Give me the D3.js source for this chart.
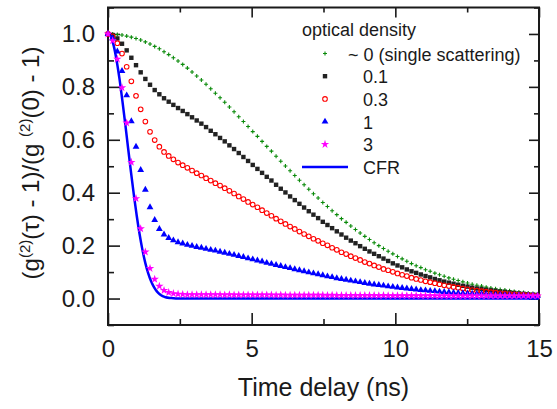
<!DOCTYPE html>
<html>
<head>
<meta charset="utf-8">
<title>Normalized g2 decay</title>
<script src="https://d3js.org/d3.v7.min.js"></script>
<style>
  body { margin: 0; background: #fff; }
  svg text { font-family: "Liberation Sans", Arial, sans-serif; fill: #1a1a1a; }
</style>
</head>
<body>
<div id="chart"></div>
<script>
// time bin of the measured curves (ns)
var sampleStep = 0.1625;

// optical density ~0 (single scattering)
var odZero = [
  1.000, 1.000, 0.998, 0.996, 0.992, 0.988, 0.983, 0.977, 0.970, 0.962,
  0.953, 0.944, 0.933, 0.922, 0.910, 0.898, 0.885, 0.871, 0.856, 0.841,
  0.826, 0.810, 0.793, 0.776, 0.759, 0.742, 0.724, 0.706, 0.687, 0.669,
  0.650, 0.631, 0.613, 0.594, 0.575, 0.557, 0.538, 0.519, 0.501, 0.483,
  0.465, 0.447, 0.430, 0.413, 0.396, 0.380, 0.363, 0.348, 0.332, 0.317,
  0.302, 0.288, 0.274, 0.261, 0.248, 0.235, 0.223, 0.211, 0.200, 0.189,
  0.179, 0.169, 0.159, 0.150, 0.141, 0.132, 0.124, 0.117, 0.109, 0.103,
  0.096, 0.090, 0.084, 0.078, 0.073, 0.068, 0.063, 0.059, 0.054, 0.050,
  0.047, 0.043, 0.040, 0.037, 0.034, 0.032, 0.029, 0.027, 0.025, 0.023,
  0.021, 0.019, 0.017
];
// optical density 0.1
var od01 = [
  1.000, 0.996, 0.983, 0.963, 0.938, 0.910, 0.882, 0.855, 0.830, 0.808,
  0.788, 0.772, 0.757, 0.744, 0.732, 0.720, 0.709, 0.697, 0.685, 0.673,
  0.661, 0.648, 0.634, 0.621, 0.607, 0.594, 0.579, 0.565, 0.550, 0.535,
  0.520, 0.505, 0.490, 0.475, 0.460, 0.446, 0.430, 0.415, 0.401, 0.386,
  0.372, 0.358, 0.344, 0.330, 0.317, 0.304, 0.290, 0.278, 0.266, 0.254,
  0.242, 0.230, 0.219, 0.209, 0.198, 0.188, 0.178, 0.169, 0.160, 0.151,
  0.142, 0.133, 0.125, 0.118, 0.110, 0.103, 0.097, 0.091, 0.085, 0.080,
  0.074, 0.069, 0.064, 0.060, 0.056, 0.052, 0.048, 0.045, 0.041, 0.038,
  0.036, 0.033, 0.031, 0.029, 0.026, 0.025, 0.023, 0.021, 0.019, 0.018,
  0.016, 0.015, 0.014
];
// optical density 0.3
var od03 = [
  1.000, 0.991, 0.965, 0.926, 0.876, 0.821, 0.766, 0.715, 0.669, 0.630,
  0.599, 0.574, 0.554, 0.539, 0.526, 0.514, 0.504, 0.494, 0.484, 0.474,
  0.465, 0.455, 0.446, 0.436, 0.427, 0.417, 0.407, 0.397, 0.386, 0.376,
  0.365, 0.355, 0.345, 0.334, 0.323, 0.313, 0.302, 0.292, 0.282, 0.272,
  0.263, 0.253, 0.244, 0.235, 0.226, 0.218, 0.209, 0.201, 0.192, 0.184,
  0.175, 0.168, 0.160, 0.153, 0.146, 0.138, 0.132, 0.125, 0.119, 0.112,
  0.107, 0.101, 0.095, 0.090, 0.085, 0.079, 0.074, 0.070, 0.065, 0.062,
  0.058, 0.054, 0.050, 0.047, 0.044, 0.041, 0.038, 0.035, 0.032, 0.030,
  0.028, 0.026, 0.024, 0.022, 0.020, 0.019, 0.017, 0.016, 0.015, 0.014,
  0.013, 0.011, 0.010
];
// optical density 1
var od1 = [
  1.000, 0.983, 0.934, 0.860, 0.768, 0.670, 0.574, 0.486, 0.411, 0.345,
  0.297, 0.263, 0.242, 0.229, 0.220, 0.213, 0.208, 0.203, 0.199, 0.195,
  0.192, 0.188, 0.184, 0.181, 0.177, 0.173, 0.169, 0.165, 0.161, 0.157,
  0.152, 0.148, 0.144, 0.140, 0.135, 0.131, 0.127, 0.123, 0.119, 0.115,
  0.111, 0.107, 0.103, 0.099, 0.095, 0.092, 0.088, 0.084, 0.081, 0.077,
  0.074, 0.071, 0.068, 0.065, 0.062, 0.059, 0.056, 0.053, 0.051, 0.049,
  0.046, 0.044, 0.042, 0.040, 0.038, 0.036, 0.034, 0.032, 0.031, 0.029,
  0.028, 0.026, 0.025, 0.024, 0.022, 0.021, 0.020, 0.019, 0.018, 0.017,
  0.017, 0.016, 0.015, 0.014, 0.014, 0.013, 0.013, 0.012, 0.012, 0.011,
  0.011, 0.010, 0.010
];
// optical density 3
var od3 = [
  1.000, 0.975, 0.905, 0.797, 0.664, 0.515, 0.378, 0.264, 0.176, 0.114,
  0.073, 0.047, 0.031, 0.023, 0.019, 0.017, 0.016, 0.015, 0.015, 0.015,
  0.015, 0.015, 0.015, 0.015, 0.015, 0.014, 0.015, 0.014, 0.014, 0.014,
  0.014, 0.014, 0.014, 0.014, 0.014, 0.014, 0.013, 0.014, 0.013, 0.013,
  0.013, 0.013, 0.013, 0.013, 0.013, 0.013, 0.013, 0.012, 0.013, 0.012,
  0.012, 0.012, 0.012, 0.012, 0.012, 0.012, 0.012, 0.012, 0.011, 0.012,
  0.011, 0.011, 0.011, 0.011, 0.011, 0.011, 0.011, 0.011, 0.011, 0.011,
  0.011, 0.010, 0.011, 0.010, 0.010, 0.010, 0.010, 0.010, 0.010, 0.010,
  0.010, 0.010, 0.010, 0.010, 0.010, 0.010, 0.010, 0.010, 0.010, 0.010,
  0.010, 0.010, 0.010
];
// CFR curve
var cfrDelay = [0, 0.1, 0.2, 0.3, 0.4, 0.5, 0.6, 0.7, 0.8, 0.9, 1.0, 1.1, 1.2, 1.3,
  1.4, 1.5, 1.6, 1.7, 1.8, 1.9, 2.0, 2.2, 2.5, 3.0, 15];
var cfrValue = [1.000, 0.990, 0.955, 0.900, 0.830, 0.748, 0.660, 0.568, 0.478, 0.392,
  0.313, 0.243, 0.183, 0.134, 0.095, 0.065, 0.043, 0.027, 0.016, 0.009, 0.005,
  0.002, 0.000, 0.000, 0.000];

var legendLabels = ["~ 0 (single scattering)", "0.1", "0.3", "1", "3", "CFR"];
var xTicks = [0, 5, 10, 15];
var xMinor = [2.5, 7.5, 12.5];
var yTicks = [0.0, 0.2, 0.4, 0.6, 0.8, 1.0];
var yMinor = [-0.1, 0.1, 0.3, 0.5, 0.7, 0.9, 1.1];

var delay = odZero.map(function(d, i) { return i * sampleStep; });

var width = 557, height = 409;
var margin = { top: 7.5, right: 18, bottom: 84, left: 108 };
var innerW = width - margin.left - margin.right;
var innerH = height - margin.top - margin.bottom;

var svg = d3.select("#chart").append("svg")
  .attr("width", width)
  .attr("height", height);

var g = svg.append("g")
  .attr("transform", "translate(" + margin.left + "," + margin.top + ")");

var x = d3.scaleLinear().domain([0, 15]).range([0, innerW]);
var y = d3.scaleLinear().domain([-0.1, 1.1]).range([innerH, 0]);

// axes: ticks point inwards on all four sides
function styleAxis(sel) {
  sel.select(".domain").remove();
  sel.selectAll(".tick line").attr("stroke", "#1a1a1a").attr("stroke-width", 1.6);
  sel.selectAll(".tick text").attr("font-size", 24).attr("fill", "#1a1a1a");
}
g.append("g").attr("transform", "translate(0," + innerH + ")")
  .call(d3.axisBottom(x).tickValues(xTicks).tickSize(-12).tickPadding(15)
    .tickFormat(d3.format("d")))
  .call(styleAxis);
g.append("g").attr("transform", "translate(0," + innerH + ")")
  .call(d3.axisBottom(x).tickValues(xMinor).tickSize(-6).tickFormat(""))
  .call(styleAxis);
g.append("g")
  .call(d3.axisTop(x).tickValues(xTicks).tickSize(-10).tickFormat(""))
  .call(styleAxis);
g.append("g")
  .call(d3.axisTop(x).tickValues(xMinor).tickSize(-5).tickFormat(""))
  .call(styleAxis);
g.append("g")
  .call(d3.axisLeft(y).tickValues(yTicks).tickSize(-12).tickPadding(13)
    .tickFormat(d3.format(".1f")))
  .call(styleAxis);
g.append("g")
  .call(d3.axisLeft(y).tickValues(yMinor).tickSize(-6).tickFormat(""))
  .call(styleAxis);
g.append("g").attr("transform", "translate(" + innerW + ",0)")
  .call(d3.axisRight(y).tickValues(yTicks).tickSize(-10).tickFormat(""))
  .call(styleAxis);
g.append("g").attr("transform", "translate(" + innerW + ",0)")
  .call(d3.axisRight(y).tickValues(yMinor).tickSize(-5).tickFormat(""))
  .call(styleAxis);

g.append("rect")
  .attr("width", innerW).attr("height", innerH)
  .attr("fill", "none").attr("stroke", "#1a1a1a").attr("stroke-width", 2);

// marker drawers
var markers = {
  plus: function(sel) {
    sel.append("path").attr("d", "M-2,0H2M0,-2V2")
      .attr("stroke", "#0a8a0a").attr("stroke-width", 1.1).attr("fill", "none");
  },
  square: function(sel) {
    sel.append("rect").attr("x", -2.2).attr("y", -2.2).attr("width", 4.4).attr("height", 4.4)
      .attr("fill", "#222");
  },
  circle: function(sel) {
    sel.append("circle").attr("r", 2.3)
      .attr("fill", "none").attr("stroke", "#ff0000").attr("stroke-width", 1.1);
  },
  triangle: function(sel) {
    sel.append("path").attr("d", d3.symbol(d3.symbolTriangle, 20)())
      .attr("fill", "#0000ff");
  },
  star: function(sel) {
    sel.append("path").attr("d", d3.symbol(d3.symbolStar, 22)())
      .attr("fill", "#ff00ff");
  }
};

function drawSeries(values, shape) {
  var pts = g.append("g").selectAll("g")
    .data(values)
    .enter().append("g")
    .attr("transform", function(d, i) {
      return "translate(" + x(delay[i]) + "," + y(d) + ")";
    });
  markers[shape](pts);
}

drawSeries(odZero, "plus");
drawSeries(od01, "square");
drawSeries(od03, "circle");
drawSeries(od1, "triangle");

var cfrLine = d3.line()
  .x(function(d, i) { return x(cfrDelay[i]); })
  .y(function(d) { return y(d); })
  .curve(d3.curveMonotoneX);
g.append("path")
  .attr("d", cfrLine(cfrValue))
  .attr("fill", "none").attr("stroke", "#0000ff").attr("stroke-width", 2.5);

drawSeries(od3, "star");

// legend
var legend = svg.append("g");
legend.append("text").attr("x", 302).attr("y", 36).attr("font-size", 18)
  .text("optical density");
var legendShapes = ["plus", "square", "circle", "triangle", "star", "line"];
legendLabels.forEach(function(label, i) {
  var cy = 53.5 + i * 22.7;
  var item = legend.append("g").attr("transform", "translate(325," + cy + ")");
  if (legendShapes[i] === "line") {
    item.append("line").attr("x1", -23).attr("x2", 23)
      .attr("stroke", "#0000ff").attr("stroke-width", 2.5);
  } else {
    markers[legendShapes[i]](item);
  }
  var t = legend.append("text").attr("y", cy + 7).attr("font-size", 18).text(label);
  if (i === 0) {
    t.attr("x", 348);
  } else {
    t.attr("x", 363);
  }
});

// axis titles
svg.append("text")
  .attr("x", margin.left + innerW / 2).attr("y", 396)
  .attr("text-anchor", "middle").attr("font-size", 25)
  .text("Time delay (ns)");

var yTitle = svg.append("text")
  .attr("transform", "translate(39,163) rotate(-90)")
  .attr("text-anchor", "middle").attr("font-size", 24);
yTitle.append("tspan").text("(g");
yTitle.append("tspan").attr("dy", -9).attr("font-size", 15).text("(2)");
yTitle.append("tspan").attr("dy", 9).text("(\u03c4) - 1)/(g ");
yTitle.append("tspan").attr("dy", -9).attr("font-size", 15).text("(2)");
yTitle.append("tspan").attr("dy", 9).text("(0) - 1)");
</script>
</body>
</html>
